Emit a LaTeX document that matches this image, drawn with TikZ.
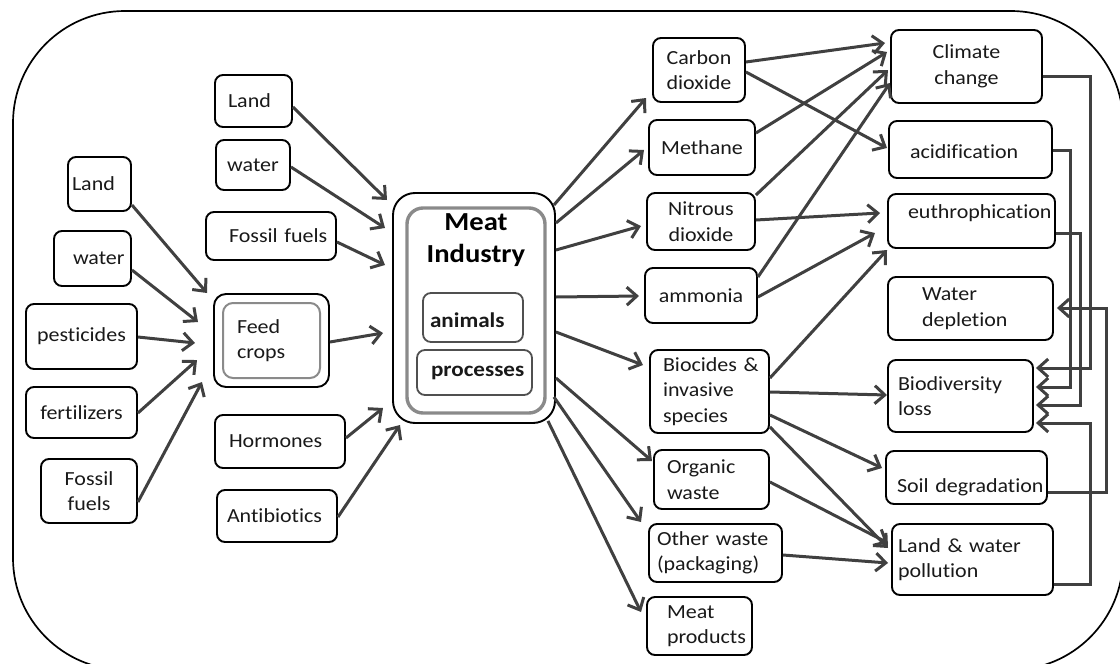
\documentclass[tikz,border=0pt]{standalone}
\usepackage{fontspec}
\setmainfont{Carlito}[FakeStretch=1.1,Ligatures=CommonOff]
\usetikzlibrary{arrows.meta,calc}

\definecolor{linkgray}{HTML}{404040}
\definecolor{rimgray}{HTML}{8A8A8A}
\definecolor{darkrim}{HTML}{505050}

% rounded box given by its corners: name, x1, y1, x2, y2, options, text
\newcommand\nd[7]{%
  \pgfmathsetmacro\bw{#4-#2}\pgfmathsetmacro\bh{#5-#3}%
  \node[box,minimum width=\bw pt,minimum height=\bh pt,text width=\bw pt,#6]
    (#1) at ({(#2+#4)/2},{(#3+#5)/2}) {#7};}
% shift a single line of text up (positive) or down (negative)
\newcommand\rs[2]{\raisebox{#1}[\height][\depth]{#2}}

\begin{document}
\begin{tikzpicture}[x=1pt,y=-1pt,
  box/.style={draw=black, line width=1.9pt, rounded corners=8pt, inner sep=0pt,
    align=center, text=black!90, font=\fontsize{20}{25.5}\selectfont},
  lpad/.style={align=left, execute at begin node={\leftskip=#1pt\relax}},
  arr/.style={draw=linkgray, line width=3pt, line join=miter,
    -{Straight Barb[length=10pt,width=18pt]}},
  boldtext/.style={font=\bfseries\fontsize{21}{25}\selectfont}
]
\useasboundingbox (0,0) rectangle (1120,664);

% outer frame
\begin{scope}
  \clip (0,0) rectangle (1120,664);
  \draw[line width=1.7pt, rounded corners=112pt] (13,11) rectangle (1123,670);
\end{scope}

% ---- inputs to feed crops
\nd{landA}{68}{157}{131}{211}{lpad=4}{Land}
\nd{waterA}{54}{231}{131}{286}{lpad=19}{water}
\nd{pest}{26}{304}{137}{369}{}{pesticides}
\nd{fert}{26}{387}{137}{438}{}{fertilizers}
\nd{fossilA}{41}{459}{137}{523}{}{Fossil\\fuels}

% ---- feed crops
\nd{feed}{214}{294}{329}{387}{rounded corners=12pt}{}
\nd{feedcore}{223}{303}{320}{378}{draw=rimgray, line width=2pt, rounded corners=10pt, lpad=14}{Feed\\crops}

% ---- direct inputs to the meat industry
\nd{landB}{215}{75}{292}{127}{lpad=13}{Land}
\nd{waterB}{216}{140}{290}{190}{}{water}
\nd{fossilB}{206}{212}{336}{260}{lpad=23}{Fossil fuels}
\nd{hormones}{215}{415}{345}{468}{lpad=14}{Hormones}
\nd{antibio}{217}{490}{337}{542}{lpad=10}{Antibiotics}

% ---- meat industry
\nd{meat}{393}{193}{555}{423}{rounded corners=22pt}{}
\nd{meatcore}{407}{208}{545}{413}{draw=rimgray, line width=3.4pt, rounded corners=16pt}{}
\node[font=\bfseries\fontsize{26}{32}\selectfont, align=center, inner sep=0pt]
  (meattitle) at (476,240) {Meat\\Industry};
\nd{animals}{423}{293}{523}{342}{draw=darkrim, line width=1.8pt, lpad=7, boldtext}{\rs{-3pt}{animals}}
\nd{procs}{417}{350}{532}{395}{draw=darkrim, line width=1.8pt, lpad=14, boldtext}{processes}

% ---- outputs
\nd{carbon}{653}{38}{745}{102}{}{Carbon\\dioxide}
\nd{methane}{649}{120}{755}{175}{}{Methane}
\nd{nitrous}{647}{193}{755}{250}{}{Nitrous\\dioxide}
\nd{ammonia}{645}{268}{757}{323}{}{ammonia}
\nd{biocides}{650}{350}{769}{433}{lpad=13}{Biocides \&\\invasive\\species}
\nd{organic}{654}{450}{769}{509}{lpad=13}{Organic\\waste}
\nd{otherw}{649}{524}{782}{582}{lpad=8}{Other waste\\(packaging)}
\nd{meatprod}{647}{597}{752}{655}{lpad=20}{Meat\\products}

% ---- impacts
\nd{climate}{891}{30}{1042}{103}{}{Climate\\change}
\nd{acid}{889}{121}{1052}{178}{lpad=21}{\rs{-2pt}{acidification}}
\nd{euthro}{888}{194}{1055}{248}{lpad=20}{\rs{8pt}{euthrophication}}
\nd{waterdep}{888}{277}{1053}{340}{lpad=34}{Water\\depletion}
\nd{biodiv}{888}{360}{1033}{432}{lpad=10}{Biodiversity\\loss}
\nd{soil}{886}{451}{1047}{504}{lpad=11}{\rs{-10pt}{Soil degradation}}
\nd{landw}{892}{524}{1053}{595}{lpad=6}{Land \& water\\pollution}

% ---- arrow tips that stop short of their targets
\coordinate (feedInA) at (207,293);
\coordinate (feedInB) at (198,322);
\coordinate (feedInC) at (195,343);
\coordinate (feedInD) at (197,360);
\coordinate (feedInE) at (202,382);
\coordinate (meatInA) at (387,200);
\coordinate (meatInB) at (385,228);
\coordinate (meatInC) at (385,265);
\coordinate (meatInD) at (383,333);
\coordinate (meatInE) at (383,408);
\coordinate (meatInF) at (400,425);
\coordinate (carbonIn) at (646,98);
\coordinate (methaneIn) at (644,150);
\coordinate (nitrousIn) at (641,226);
\coordinate (ammoniaIn) at (639,296);
\coordinate (biocidesIn) at (643,365);
\coordinate (organicIn) at (652,461);
\coordinate (otherwIn) at (641,522);
\coordinate (meatprodIn) at (641,612);
\coordinate (climateInA) at (885,43);
\coordinate (climateInB) at (887,52);
\coordinate (climateInC) at (888,70);
\coordinate (climateInD) at (890,83);
\coordinate (acidIn) at (887,148);
\coordinate (euthroInA) at (880,213);
\coordinate (euthroInB) at (875,233);
\coordinate (euthroInC) at (887,250);
\coordinate (biodivIn) at (887,395);
\coordinate (soilIn) at (882,468);
\coordinate (landwInA) at (888,548);
\coordinate (landwInB) at (888,543);
\coordinate (landwInC) at (888,563);

% feed crop inputs
\draw[arr] (landA.east |- 0,205) -- (feedInA);
\draw[arr] (waterA.east |- 0,270) -- (feedInB);
\draw[arr] (pest.east |- 0,337) -- (feedInC);
\draw[arr] (fert.east |- 0,413) -- (feedInD);
\draw[arr] (fossilA.east |- 0,502) -- (feedInE);

% meat industry inputs
\draw[arr] (landB.east |- 0,107) -- (meatInA);
\draw[arr] (waterB.east |- 0,167) -- (meatInB);
\draw[arr] (fossilB.east |- 0,242) -- (meatInC);
\draw[arr] (feed.east |- 0,342) -- (meatInD);
\draw[arr] (hormones.east |- 0,438) -- (meatInE);
\draw[arr] (antibio.east |- 0,517) -- (meatInF);

% meat industry outputs
\draw[arr] ([xshift=-2pt]meat.east |- 0,205) -- (carbonIn);
\draw[arr] (meat.east |- 0,223) -- (methaneIn);
\draw[arr] (meat.east |- 0,250) -- (nitrousIn);
\draw[arr] (meat.east |- 0,297) -- (ammoniaIn);
\draw[arr] (meat.east |- 0,332) -- (biocidesIn);
\draw[arr] (meat.east |- 0,378) -- (organicIn);
\draw[arr] ([xshift=-2pt]meat.east |- 0,397) -- (otherwIn);
\draw[arr] ([xshift=-8pt,yshift=3pt]meat.south east) -- (meatprodIn);

% outputs to impacts
\draw[arr] (carbon.east |- 0,62) -- (climateInA);
\draw[arr] (carbon.east |- 0,72) -- (acidIn);
\draw[arr] (methane.east |- 0,133) -- (climateInB);
\draw[arr] (nitrous.east |- 0,195) -- (climateInC);
\draw[arr] (nitrous.east |- 0,220) -- (euthroInA);
\draw[arr] (ammonia.east |- 0,277) -- (climateInD);
\draw[arr] (ammonia.east |- 0,297) -- (euthroInB);
\draw[arr] (biocides.east |- 0,378) -- (euthroInC);
\draw[arr] (biocides.east |- 0,392) -- (biodivIn);
\draw[arr] (biocides.east |- 0,415) -- (soilIn);
\draw[arr] (biocides.east |- 0,427) -- (landwInA);
\draw[arr] (organic.east |- 0,482) -- (landwInB);
\draw[arr] (otherw.east |- 0,555) -- (landwInC);

% impacts feeding back into other impacts
\draw[arr, shorten >=2pt] (climate.east |- 0,76) -- (1090,76) |- (biodiv.east |- 0,368);
\draw[arr, shorten >=2pt] (acid.east |- 0,150) -- (1070,150) |- (biodiv.east |- 0,387);
\draw[arr, shorten >=2pt] (euthro.east |- 0,233) -- (1080,233) |- (biodiv.east |- 0,405);
\draw[arr, shorten >=2pt] (landw.east |- 0,584) -- (1090,584) |- (biodiv.east |- 0,423);
\draw[arr, shorten >=3pt] (soil.east |- 0,492) -- (1106,492) |- (waterdep.east |- 0,308);
\end{tikzpicture}
\end{document}
